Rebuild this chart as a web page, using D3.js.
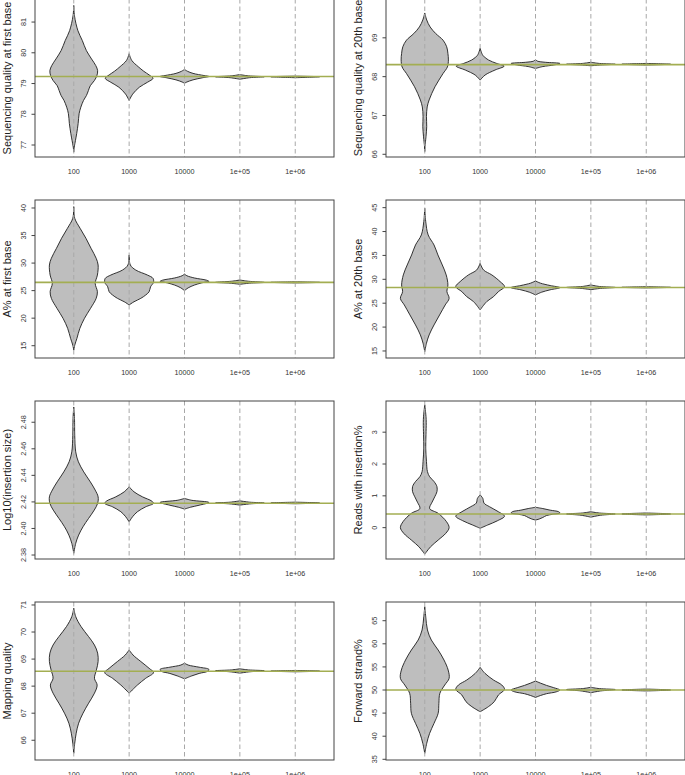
<!DOCTYPE html>
<html>
<head>
<meta charset="utf-8">
<script src="https://cdn.jsdelivr.net/npm/d3@7"></script>
<style>
  body { margin: 0; background: #fff; }
  svg { display: block; font-family: "Liberation Sans", Arial, sans-serif; }
</style>
</head>
<body>
<div id="chart"></div>
<script>
// sample sizes on the x axis
var sizes = ["100", "1000", "10000", "1e+05", "1e+06"];

var yTitles = [
  "Sequencing quality at first base", "Sequencing quality at 20th base",
  "A% at first base", "A% at 20th base",
  "Log10(insertion size)", "Reads with insertion%",
  "Mapping quality", "Forward strand%"
];

// value of the full data set (horizontal line)
var trueVals = [79.23, 68.31, 26.5, 28.3, 2.419, 0.43, 68.55, 50.0];

var yTicks = [
  [77, 78, 79, 80, 81], [66, 67, 68, 69],
  [15, 20, 25, 30, 35, 40], [15, 20, 25, 30, 35, 40, 45],
  [2.38, 2.40, 2.42, 2.44, 2.46, 2.48], [0, 1, 2, 3],
  [66, 67, 68, 69, 70, 71], [35, 40, 45, 50, 55, 60, 65]
];
var yFormats = ["d", "d", "d", "d", ".2f", "d", "d", "d"];
var yLims = [
  [76.61, 81.75], [65.93, 70.0], [12.77, 41.45], [13.53, 46.6],
  [2.377, 2.496], [-0.985, 3.98], [65.27, 71.11], [34.85, 69.05]
];

// violin outlines: [value, relative half width]
var qualFirst = [
  [[81.54,0],[81.2,0.03],[80.72,0.17],[80.4,0.35],[80.07,0.52],[79.8,0.73],[79.59,0.9],[79.42,0.98],[79.26,0.95],[79.1,0.85],[78.93,0.68],[78.77,0.6],[78.61,0.52],[78.45,0.4],[78.23,0.29],[78.02,0.22],[77.7,0.18],[77.37,0.12],[77.15,0.07],[76.93,0.02],[76.77,0]],
  [[79.97,0],[79.75,0.11],[79.55,0.37],[79.4,0.6],[79.28,0.82],[79.17,0.98],[79.04,0.75],[78.88,0.42],[78.66,0.15],[78.45,0]],
  [[79.46,0],[79.40,0.12],[79.33,0.35],[79.26,0.8],[79.23,1],[79.19,0.75],[79.12,0.35],[79.05,0.1],[79.01,0]],
  [[79.29,0],[79.25,0.35],[79.22,1],[79.19,0.4],[79.14,0]],
  [[79.24,0],[79.22,1],[79.19,0]]
];
var qual20 = [
  [[69.64,0],[69.46,0.08],[69.28,0.22],[69.11,0.45],[68.94,0.75],[68.77,0.9],[68.6,0.95],[68.43,0.97],[68.25,0.93],[68.08,0.75],[67.91,0.58],[67.74,0.42],[67.57,0.29],[67.4,0.18],[67.22,0.1],[66.97,0.07],[66.71,0.08],[66.45,0.05],[66.2,0.01],[66.07,0]],
  [[68.73,0],[68.55,0.11],[68.43,0.34],[68.34,0.68],[68.27,0.98],[68.17,0.61],[68.04,0.2],[67.91,0]],
  [[68.44,0],[68.40,0.08],[68.37,0.4],[68.34,1],[68.30,0.75],[68.26,0.3],[68.21,0]],
  [[68.37,0],[68.34,0.35],[68.32,1],[68.30,0.4],[68.28,0]],
  [[68.34,0],[68.32,1],[68.30,0]]
];
var aFirst = [
  [[40.24,0],[38.13,0.04],[36.31,0.26],[34.5,0.5],[32.68,0.71],[30.87,0.92],[29.65,1.0],[27.83,0.97],[26.32,0.88],[24.8,0.97],[23.6,0.92],[21.79,0.69],[19.97,0.44],[18.15,0.25],[16.34,0.13],[15.1,0.04],[14.2,0]],
  [[31.47,0],[29.65,0.05],[28.74,0.27],[27.83,0.75],[27.23,0.98],[26.5,1.0],[25.7,0.88],[24.8,0.82],[24.2,0.68],[23.6,0.48],[22.98,0.2],[22.4,0]],
  [[28.0,0],[27.7,0.1],[27.3,0.4],[26.9,0.9],[26.7,1],[26.4,0.7],[26.0,0.4],[25.5,0.15],[25.0,0]],
  [[26.93,0],[26.7,0.35],[26.5,1],[26.35,0.4],[26.15,0]],
  [[26.6,0],[26.5,1],[26.4,0]]
];
var a20 = [
  [[44.87,0],[42.07,0.04],[39.29,0.14],[37.19,0.38],[35.1,0.54],[33.0,0.72],[30.92,0.88],[28.82,0.95],[27.42,0.91],[26.0,1.0],[24.64,0.84],[22.55,0.61],[20.45,0.38],[18.36,0.18],[16.62,0.07],[14.86,0]],
  [[33.36,0],[31.96,0.14],[30.92,0.48],[29.52,0.82],[28.47,1.0],[27.42,0.75],[26.37,0.55],[25.33,0.27],[23.6,0]],
  [[29.66,0],[29.2,0.2],[28.7,0.6],[28.26,1],[27.8,0.6],[27.3,0.25],[26.73,0]],
  [[28.82,0],[28.5,0.35],[28.3,1],[28.1,0.4],[27.84,0]],
  [[28.45,0],[28.32,1],[28.2,0]]
];
var insSize = [
  [[2.4915,0],[2.4828,0.03],[2.4702,0.04],[2.4577,0.08],[2.4502,0.19],[2.4426,0.41],[2.4351,0.68],[2.4289,0.88],[2.4238,1.0],[2.4189,0.98],[2.4138,0.84],[2.4076,0.61],[2.4013,0.38],[2.395,0.2],[2.3888,0.08],[2.3813,0]],
  [[2.4314,0],[2.4276,0.2],[2.4238,0.55],[2.4206,0.93],[2.4189,1.0],[2.4163,0.68],[2.4126,0.34],[2.4088,0.14],[2.405,0]],
  [[2.4226,0],[2.4212,0.3],[2.4196,1],[2.4175,0.6],[2.416,0.25],[2.4146,0]],
  [[2.4208,0],[2.4198,0.4],[2.4192,1],[2.4185,0.4],[2.4176,0]],
  [[2.4198,0],[2.4192,1],[2.4186,0]]
];
var insReads = [
  [[3.86,0],[3.5,0.05],[3.3,0.06],[2.92,0.05],[2.5,0.04],[2.08,0.07],[1.76,0.11],[1.6,0.2],[1.45,0.38],[1.29,0.5],[1.13,0.5],[0.97,0.41],[0.8,0.3],[0.6,0.2],[0.45,0.55],[0.19,0.89],[0.0,1.0],[-0.18,0.86],[-0.39,0.55],[-0.6,0.24],[-0.76,0.07],[-0.83,0]],
  [[1.03,0],[0.92,0.11],[0.77,0.16],[0.66,0.38],[0.5,0.75],[0.36,1.0],[0.22,0.72],[0.08,0.3],[-0.02,0]],
  [[0.64,0],[0.6,0.3],[0.55,0.6],[0.5,0.95],[0.46,1],[0.42,0.7],[0.38,0.45],[0.32,0.3],[0.27,0.15],[0.24,0]],
  [[0.5,0],[0.46,0.35],[0.43,1],[0.39,0.4],[0.33,0]],
  [[0.46,0],[0.43,1],[0.40,0]]
];
var mapQual = [
  [[70.88,0],[70.57,0.08],[70.2,0.3],[69.83,0.61],[69.52,0.85],[69.22,0.98],[68.91,1.0],[68.6,0.93],[68.29,0.85],[68.04,0.96],[67.74,0.85],[67.37,0.61],[67.0,0.38],[66.63,0.2],[66.26,0.1],[65.89,0.04],[65.52,0]],
  [[69.34,0],[69.15,0.16],[68.91,0.48],[68.66,0.82],[68.5,1.0],[68.29,0.68],[68.04,0.34],[67.74,0]],
  [[68.85,0],[68.78,0.15],[68.7,0.6],[68.62,1],[68.55,0.95],[68.47,0.6],[68.38,0.3],[68.27,0]],
  [[68.64,0],[68.6,0.35],[68.57,1],[68.53,0.4],[68.48,0]],
  [[68.58,0],[68.555,1],[68.53,0]]
];
var fwdStrand = [
  [[68.03,0],[65.87,0.04],[62.99,0.11],[60.82,0.27],[58.66,0.55],[56.49,0.79],[54.33,0.96],[52.53,1.0],[51.08,0.82],[49.29,0.62],[47.12,0.58],[44.96,0.55],[42.79,0.38],[40.63,0.2],[38.46,0.08],[36.3,0]],
  [[54.9,0],[53.6,0.2],[52.16,0.55],[51.08,0.89],[50.14,1.0],[48.92,0.75],[47.47,0.58],[46.39,0.34],[45.3,0]],
  [[51.95,0],[51.5,0.2],[51.0,0.45],[50.5,0.75],[50.0,1],[49.6,0.85],[49.2,0.45],[48.8,0.2],[48.4,0]],
  [[50.58,0],[50.3,0.35],[50.1,1],[49.8,0.4],[49.42,0]],
  [[50.2,0],[50.0,1],[49.8,0]]
];
var violins = [qualFirst, qual20, aFirst, a20, insSize, insReads, mapQual, fwdStrand];

// page layout (R mfrow = c(4,2))
var W = 685, H = 775;
var colLeft = [35, 386], rowTop = [-1, 200, 401, 602];
var pw = 299, ph = 158;

var svg = d3.select("#chart").append("svg")
  .attr("width", W).attr("height", H);

violins.forEach(function(groups, i) {
  var col = i % 2, row = Math.floor(i / 2);
  var g = svg.append("g")
    .attr("transform", "translate(" + colLeft[col] + "," + rowTop[row] + ")");

  var x = d3.scaleLinear().domain([0.3, 5.7]).range([0, pw]);
  var y = d3.scaleLinear().domain(yLims[i]).range([ph, 0]);
  var hw = (x(1) - x(0)) * 0.44;

  // violins
  groups.forEach(function(prof, j) {
    var cx = x(j + 1);
    var area = d3.area()
      .curve(d3.curveCatmullRom)
      .y(function(d) { return y(d[0]); })
      .x0(function(d) { return cx - d[1] * hw; })
      .x1(function(d) { return cx + d[1] * hw; });
    g.append("path")
      .attr("d", area(prof))
      .attr("fill", "#bebebe")
      .attr("stroke", "#1e1e1e")
      .attr("stroke-width", 0.9)
      .attr("stroke-linejoin", "round");
  });

  // dashed guide at each sample size
  g.selectAll(".vline").data(sizes).enter().append("line")
    .attr("x1", function(d, j) { return x(j + 1); })
    .attr("x2", function(d, j) { return x(j + 1); })
    .attr("y1", 0).attr("y2", ph)
    .attr("stroke", "#a8a8a8")
    .attr("stroke-width", 1)
    .attr("stroke-dasharray", "4.5,3");

  // full-data value
  g.append("line")
    .attr("x1", 0).attr("x2", pw)
    .attr("y1", y(trueVals[i])).attr("y2", y(trueVals[i]))
    .attr("stroke", "#a3ae52")
    .attr("stroke-width", 1.6);

  // box
  g.append("rect")
    .attr("width", pw).attr("height", ph)
    .attr("fill", "none")
    .attr("stroke", "#444")
    .attr("stroke-width", 1);

  // y axis
  var fmt = d3.format(yFormats[i]);
  var yAxis = g.append("g");
  yAxis.selectAll("line").data(yTicks[i]).enter().append("line")
    .attr("x1", -3.5).attr("x2", 0)
    .attr("y1", function(d) { return y(d); })
    .attr("y2", function(d) { return y(d); })
    .attr("stroke", "#444");
  yAxis.selectAll("text").data(yTicks[i]).enter().append("text")
    .attr("transform", function(d) { return "translate(-9.5," + y(d) + ")rotate(-90)"; })
    .attr("text-anchor", "middle")
    .attr("font-size", "7.2px")
    .attr("fill", "#333")
    .text(function(d) { return fmt(d); });

  // x labels
  g.selectAll(".xlab").data(sizes).enter().append("text")
    .attr("x", function(d, j) { return x(j + 1); })
    .attr("y", ph + 17)
    .attr("text-anchor", "middle")
    .attr("font-size", "7.2px")
    .attr("fill", "#333")
    .text(function(d) { return d; });

  // y title
  g.append("text")
    .attr("transform", "translate(-24," + (ph / 2) + ")rotate(-90)")
    .attr("text-anchor", "middle")
    .attr("font-size", "11px")
    .attr("fill", "#222")
    .text(yTitles[i]);
});
</script>
</body>
</html>
